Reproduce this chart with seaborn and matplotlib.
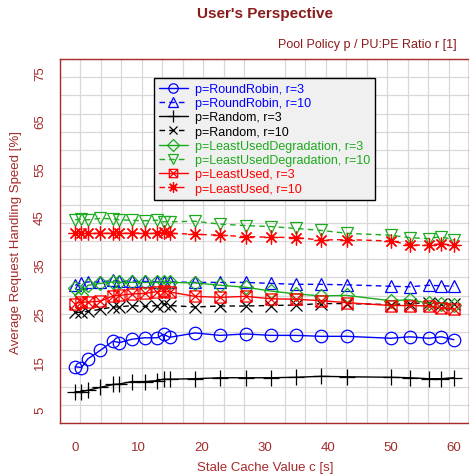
import numpy as np
import matplotlib
matplotlib.use("Agg")
import matplotlib.pyplot as plt
from matplotlib.path import Path
from matplotlib.ticker import LinearLocator, FixedLocator
import seaborn as sns

# --- data ---
cache = [0, 1, 2, 4, 6, 7, 9, 11, 13, 14, 15, 19, 23, 27, 31, 35, 39, 43, 50, 53, 56, 58, 60]

rr3 = [13.9, 13.7, 15.5, 17.3, 19.2, 18.9, 19.6, 19.9, 19.9, 20.6, 20.0, 20.9, 20.4,
       20.7, 20.4, 20.4, 20.2, 20.2, 19.8, 20.1, 19.8, 20.1, 19.5]
rr10 = [30.8, 31.3, 31.5, 31.5, 31.8, 31.6, 31.7, 31.6, 31.5, 31.5, 31.5, 31.4, 31.4,
        31.4, 31.2, 31.0, 31.0, 30.9, 30.6, 30.5, 30.8, 30.7, 30.6]
rnd3 = [8.7, 8.7, 9.0, 9.6, 10.2, 10.3, 10.8, 10.8, 11.0, 11.3, 11.3, 11.4, 11.6,
        11.6, 11.6, 11.7, 11.9, 11.8, 11.7, 11.6, 11.4, 11.4, 11.6]
rnd10 = [25.2, 25.2, 25.4, 25.8, 26.3, 26.3, 26.6, 26.4, 26.6, 27.0, 26.6, 26.3, 26.5,
         26.5, 26.6, 26.7, 27.0, 27.0, 26.8, 27.0, 27.2, 27.0, 27.0]
lud3 = [30.2, 28.8, 30.8, 31.2, 31.5, 31.4, 31.4, 31.4, 31.4, 31.4, 31.4, 31.3, 30.8,
        30.4, 29.6, 29.0, 28.6, 28.7, 27.6, 27.8, 27.1, 27.0, 26.7]
lud10 = [44.4, 44.5, 44.4, 44.7, 44.6, 44.4, 44.3, 44.2, 44.3, 44.0, 44.0, 44.1, 43.5,
         43.2, 43.0, 42.6, 42.2, 41.6, 41.2, 40.7, 40.5, 40.9, 40.2]
lu3 = [27.0, 27.3, 27.3, 27.5, 28.6, 28.7, 29.0, 29.1, 29.5, 29.6, 29.4, 28.5, 28.3,
       28.5, 28.0, 27.9, 27.6, 27.2, 26.6, 26.6, 26.5, 26.1, 25.9]
lu10 = [41.6, 41.6, 41.6, 41.6, 41.6, 41.6, 41.6, 41.7, 41.6, 41.9, 41.6, 41.4, 41.2,
        40.9, 40.8, 40.7, 40.2, 40.3, 40.0, 39.2, 39.1, 39.4, 39.1]

x_ticks = [0, 10, 20, 30, 40, 50, 60]
y_ticks = [5, 15, 25, 35, 45, 55, 65, 75]

# --- styling ---
DARK_RED = '#8B1A1A'
AXIS_RED = '#A52A2A'
GREEN = '#1EAA1E'
DASHED = (0, (4, 3))

# R pch 7: square with a cross inside
box_x = Path(
    [(-1, -1), (1, -1), (1, 1), (-1, 1), (-1, -1), (-1, -1), (1, 1), (-1, 1), (1, -1)],
    [Path.MOVETO, Path.LINETO, Path.LINETO, Path.LINETO, Path.CLOSEPOLY,
     Path.MOVETO, Path.LINETO, Path.MOVETO, Path.LINETO],
)

# label, values, colour, line style, marker, marker size
series = [
    ("p=RoundRobin, r=3", rr3, 'blue', '-', 'o', 9),
    ("p=RoundRobin, r=10", rr10, 'blue', DASHED, '^', 9),
    ("p=Random, r=3", rnd3, 'black', '-', '+', 11),
    ("p=Random, r=10", rnd10, 'black', DASHED, 'x', 8),
    ("p=LeastUsedDegradation, r=3", lud3, GREEN, '-', 'D', 7.5),
    ("p=LeastUsedDegradation, r=10", lud10, GREEN, DASHED, 'v', 9),
    ("p=LeastUsed, r=3", lu3, 'red', '-', box_x, 8),
    ("p=LeastUsed, r=10", lu10, 'red', DASHED, (8, 2, 0), 10),
]

sns.set_style("white")
plt.rcParams['font.family'] = ['Liberation Sans', 'DejaVu Sans']

fig = plt.figure(figsize=(4.69, 4.77), dpi=100)
ax = fig.add_axes([60 / 469, 53 / 477, 409 / 469, 364 / 477])

for label, vals, color, ls, marker, ms in series:
    sns.lineplot(
        x=cache, y=vals, ax=ax, color=color, linestyle=ls, linewidth=1.0,
        marker=marker, markersize=ms, markerfacecolor='none',
        markeredgecolor=color, markeredgewidth=0.9,
        label=label, errorbar=None, sort=False,
    )

ax.set_xlim(-2.4, 62.4)
ax.set_ylim(2.2, 77.8)

# R-style 20x20 background grid
ax.xaxis.set_major_locator(FixedLocator(x_ticks))
ax.yaxis.set_major_locator(FixedLocator(y_ticks))
ax.xaxis.set_minor_locator(LinearLocator(21))
ax.yaxis.set_minor_locator(LinearLocator(21))
ax.grid(which='minor', color='#D8D8D8', linewidth=0.9)
ax.grid(which='major', visible=False)
ax.set_axisbelow(True)
ax.tick_params(which='minor', length=0)
ax.tick_params(which='major', direction='out', length=5, width=1, color=AXIS_RED,
               labelcolor=AXIS_RED, labelsize=9.5, pad=5)
ax.tick_params(axis='x', pad=8)
for lbl in ax.get_yticklabels():
    lbl.set_rotation(90)
    lbl.set_va('center')

for s in ax.spines.values():
    s.set_color(AXIS_RED)
    s.set_linewidth(1)

ax.set_xlabel("")
ax.set_ylabel("Average Request Handling Speed [%]", color=AXIS_RED, fontsize=9.5, labelpad=9)
fig.text(265 / 469, 1 - 468 / 477, "Stale Cache Value c [s]", ha='center', va='center',
         color=AXIS_RED, fontsize=9.5)

fig.text(265 / 469, 1 - 14 / 477, "User's Perspective", ha='center', va='center',
         fontsize=11, fontweight='bold', color=DARK_RED)
fig.text(457 / 469, 1 - 45 / 477, "Pool Policy p / PU:PE Ratio r [1]", ha='right',
         va='center', fontsize=9, color=DARK_RED)

leg = ax.legend(loc='upper center', bbox_to_anchor=(0.5, 0.965), frameon=True,
                fancybox=False, facecolor='#F0F0F0', edgecolor='black', framealpha=1,
                fontsize=9, labelcolor='linecolor', handlelength=2.3, handletextpad=0.6,
                borderpad=0.4, labelspacing=0.18, markerscale=0.75)
leg.get_frame().set_linewidth(1)

fig.savefig("out.png", dpi=100)
